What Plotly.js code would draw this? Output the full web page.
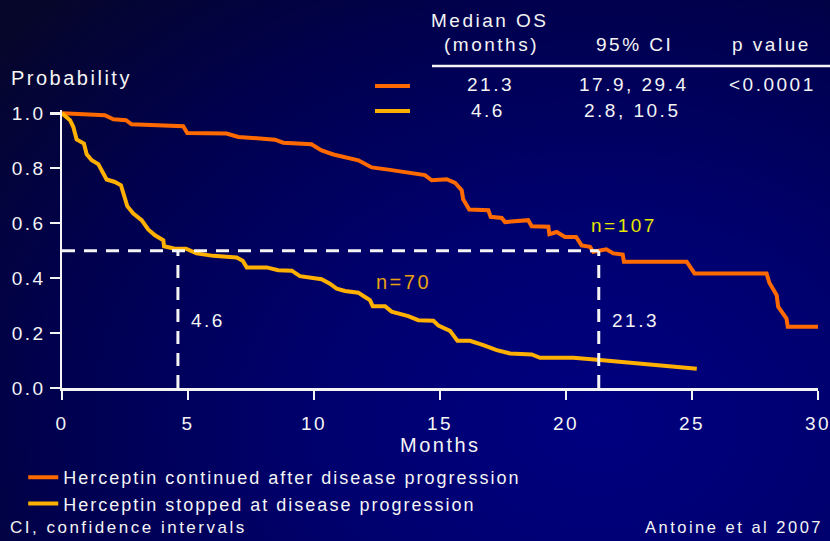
<!DOCTYPE html>
<html>
<head>
<meta charset="utf-8">
<script src="https://cdn.plot.ly/plotly-3.0.1.min.js"></script>
<style>
  html, body { margin:0; padding:0; width:830px; height:541px; overflow:hidden; }
  body { background: radial-gradient(ellipse 95% 110% at 72% 78%, #000080 0%, #00006e 35%, #00004e 70%, #06062a 100%); }
  #chart { width:830px; height:541px; }
  svg text { letter-spacing: 2.5px; }
  svg text.legendtext { letter-spacing: 2px; }
</style>
</head>
<body>
<div id="chart"></div>
<script>
// ---- data ----
const contMonths = [0, 1.7, 2.04, 2.54, 2.76, 4.81, 4.97, 6.53, 7.0, 7.59, 8.45, 8.78, 9.9, 10.3, 10.77, 11.76, 12.29, 12.95, 14.1, 14.4, 14.67, 15.27, 15.6, 15.86, 15.92, 16.16, 16.92, 17.01, 17.45, 17.58, 18.5, 18.64, 19.3, 19.34, 19.63, 19.96, 20.4, 20.62, 20.95, 21.08, 21.6, 21.88, 22.25, 22.3, 24.79, 25.1, 27.96, 28.07, 28.36, 28.42, 28.75, 28.8, 30.0];
const contProb   = [1.0, 0.993, 0.978, 0.975, 0.96, 0.953, 0.928, 0.926, 0.914, 0.91, 0.904, 0.893, 0.887, 0.865, 0.85, 0.829, 0.803, 0.795, 0.777, 0.775, 0.756, 0.76, 0.747, 0.72, 0.687, 0.65, 0.647, 0.623, 0.619, 0.604, 0.611, 0.589, 0.587, 0.56, 0.568, 0.55, 0.55, 0.519, 0.514, 0.496, 0.505, 0.49, 0.486, 0.46, 0.46, 0.417, 0.417, 0.383, 0.338, 0.296, 0.253, 0.223, 0.223];

const stopMonths = [0, 0.32, 0.45, 0.58, 0.87, 0.98, 1.18, 1.44, 1.77, 2.1, 2.34, 2.54, 2.59, 2.83, 3.16, 3.42, 3.69, 4.02, 4.05, 4.48, 4.92, 5.34, 6.0, 6.93, 7.17, 7.33, 8.12, 8.58, 9.12, 9.44, 10.3, 10.63, 10.9, 11.23, 11.76, 11.96, 12.22, 12.33, 12.82, 13.08, 13.74, 14.14, 14.74, 14.94, 15.4, 15.69, 16.19, 16.72, 17.25, 17.78, 18.64, 18.97, 20.29, 21.35, 22.67, 25.19];
const stopProb   = [1.0, 0.975, 0.95, 0.905, 0.89, 0.851, 0.829, 0.815, 0.759, 0.75, 0.738, 0.684, 0.662, 0.635, 0.611, 0.577, 0.556, 0.538, 0.516, 0.507, 0.507, 0.49, 0.481, 0.475, 0.463, 0.439, 0.439, 0.429, 0.427, 0.407, 0.396, 0.38, 0.362, 0.353, 0.347, 0.335, 0.32, 0.298, 0.298, 0.278, 0.262, 0.247, 0.245, 0.227, 0.208, 0.172, 0.172, 0.156, 0.138, 0.126, 0.122, 0.11, 0.11, 0.102, 0.092, 0.07];

const seriesNames = ["Herceptin continued after disease progression", "Herceptin stopped at disease progression"];
const groupN      = ["n=107", "n=70"];
const medianOS    = [21.3, 4.6];
const ci95        = ["17.9, 29.4", "2.8, 10.5"];
const pValue      = ["<0.0001", ""];
const medianLevel = 0.5;
const xTicks = [0, 5, 10, 15, 20, 25, 30];
const yTicks = [0, 0.2, 0.4, 0.6, 0.8, 1.0];

// ---- styling ----
const ORANGE = "#ff6a00";
const AMBER  = "#ffb000";
const WHITE  = "#f4f4f4";
const FONT   = "Liberation Sans, Arial, sans-serif";

const L = 62, R = 12, T = 110, B = 153, W = 830, H = 541;
const pw = W - L - R, ph = H - T - B;
const px = x => (x - L) / pw;
const py = y => (H - B - y) / ph;

const dashStyle = {color: WHITE, width: 3, dash: "13px,9px"};

const traces = [
  {x: contMonths, y: contProb, mode: "lines", name: seriesNames[0],
   line: {color: ORANGE, width: 4}, hoverinfo: "skip"},
  {x: stopMonths, y: stopProb, mode: "lines", name: seriesNames[1],
   line: {color: AMBER, width: 4}, hoverinfo: "skip"},
  {x: [0, medianOS[0]], y: [medianLevel, medianLevel], mode: "lines", showlegend: false, line: dashStyle, hoverinfo: "skip"},
  {x: [medianOS[1], medianOS[1]], y: [0, medianLevel], mode: "lines", showlegend: false, line: dashStyle, hoverinfo: "skip"},
  {x: [medianOS[0], medianOS[0]], y: [0, medianLevel], mode: "lines", showlegend: false, line: dashStyle, hoverinfo: "skip"}
];

const txt = (text, x, y, opts = {}) => Object.assign({
  text, x, y, xref: "paper", yref: "paper", showarrow: false,
  font: {family: FONT, size: 19, color: WHITE}, xanchor: "center", yanchor: "middle"
}, opts);
const f = (size, color = WHITE) => ({family: FONT, size, color});

const annotations = [
  txt("Probability", px(9), py(78), {xanchor: "left", font: f(20)}),
  txt("Months", px(440), py(445), {font: f(20)}),
  txt("Median OS", px(490), py(20)),
  txt("(months)", px(491), py(45)),
  txt("95% CI", px(634), py(45)),
  txt("p value", px(771), py(45)),
  txt(String(medianOS[0]), px(490), py(85)),
  txt(ci95[0], px(634), py(85)),
  txt(pValue[0], px(772), py(85)),
  txt(String(medianOS[1]), px(488), py(110)),
  txt(ci95[1], px(632), py(110)),
  txt(groupN[0], 20.9, 0.593, {xref: "x", yref: "y", xanchor: "left", font: f(19, "#e6e600")}),
  txt(groupN[1], 12.4, 0.385, {xref: "x", yref: "y", xanchor: "left", font: f(20, "#e8a010")}),
  txt(String(medianOS[1]), 5.05, 0.245, {xref: "x", yref: "y", xanchor: "left"}),
  txt(String(medianOS[0]), 21.75, 0.245, {xref: "x", yref: "y", xanchor: "left"}),
  txt("CI, confidence intervals", px(8), py(527), {xanchor: "left", font: f(17)}),
  txt("Antoine et al 2007", px(825), py(527), {xanchor: "right", font: f(16.5)})
];

const shapes = [
  {type: "line", xref: "paper", yref: "paper", x0: px(432), x1: px(830), y0: py(66), y1: py(66), line: {color: WHITE, width: 2.5}},
  {type: "line", xref: "paper", yref: "paper", x0: px(375), x1: px(410), y0: py(86), y1: py(86), line: {color: ORANGE, width: 4}},
  {type: "line", xref: "paper", yref: "paper", x0: px(375), x1: px(410), y0: py(111), y1: py(111), line: {color: AMBER, width: 4}}
];

const axisCommon = {
  showgrid: false, zeroline: false, showline: true, linecolor: WHITE, linewidth: 2.5,
  ticks: "outside", tickcolor: WHITE, tickwidth: 2.5, automargin: false,
  ticklabeloverflow: "allow",
  tickfont: {family: FONT, size: 19, color: WHITE}
};

const layout = {
  width: W, height: H,
  margin: {l: L, r: R, t: T, b: B, pad: 0, autoexpand: false},
  paper_bgcolor: "rgba(0,0,0,0)", plot_bgcolor: "rgba(0,0,0,0)",
  font: {family: FONT, color: WHITE},
  xaxis: Object.assign({}, axisCommon, {range: [0, 30], tickvals: xTicks, ticklen: 9, ticklabelstandoff: 8}),
  yaxis: Object.assign({}, axisCommon, {range: [0, 1.012], tickvals: yTicks, tickformat: ".1f", ticklen: 10, ticklabelstandoff: 0}),
  showlegend: true,
  legend: {xref: "container", yref: "container", x: 0.028, y: (H - 459) / H, xanchor: "left", yanchor: "top",
           bgcolor: "rgba(0,0,0,0)", font: f(18), tracegroupgap: 0, itemwidth: 30},
  annotations, shapes
};

Plotly.newPlot("chart", traces, layout, {staticPlot: true, displayModeBar: false});
</script>
</body>
</html>
